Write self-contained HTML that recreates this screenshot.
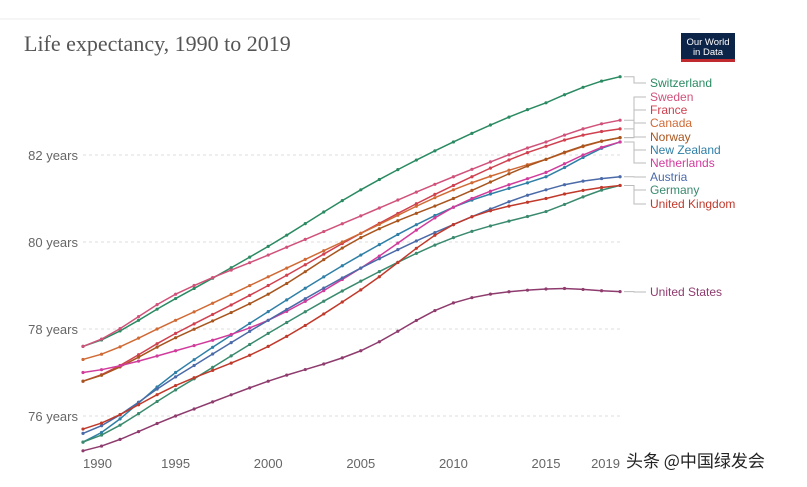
<!DOCTYPE html>
<html><head><meta charset="utf-8"><style>
body{margin:0;background:#fff;width:807px;height:482px;overflow:hidden;font-family:"Liberation Sans",sans-serif}
</style></head><body>
<svg id="s" width="807" height="482" xmlns="http://www.w3.org/2000/svg" font-family="Liberation Sans, sans-serif">
<line x1="0" y1="19" x2="700" y2="19" stroke="#eee"/>
<text x="24" y="51" font-family="Liberation Serif, serif" font-size="22" fill="#555">Life expectancy, 1990 to 2019</text>
<rect x="681" y="33" width="54" height="29" fill="#0d2449"/>
<rect x="681" y="59" width="54" height="3" fill="#c0292e"/>
<text x="708" y="45" font-size="9.5" fill="#fff" text-anchor="middle">Our World</text>
<text x="708" y="55" font-size="9.5" fill="#fff" text-anchor="middle">in Data</text>
<g id="grid"></g><g id="lines"></g><g id="leg"></g>
<text x="626" y="467" font-family="Noto Sans CJK SC, sans-serif" font-size="17" fill="#222">头条 @中国绿发会</text>
</svg>
<script>
const X=y=>83+(y-1990)*18.52, Y=v=>155+(82-v)*43.5, ns="http://www.w3.org/2000/svg";
function el(p,t,a,txt){const e=document.createElementNS(ns,t);for(const k in a)e.setAttribute(k,a[k]);if(txt)e.textContent=txt;document.getElementById(p).appendChild(e);return e;}
[82,80,78,76].forEach(v=>{el("grid","line",{x1:83,x2:620,y1:Y(v),y2:Y(v),stroke:"#ddd","stroke-dasharray":"3,3"});el("grid","text",{x:78,y:Y(v)+5,"text-anchor":"end","font-size":"13",fill:"#666"},v+" years");});
[1990,1995,2000,2005,2010,2015,2019].forEach(y=>el("grid","text",{x:y==1990?83:(y==2019?620:X(y)),y:468,"text-anchor":y==1990?"start":(y==2019?"end":"middle"),"font-size":"13",fill:"#666"},y));
const yrs=[1990,1995,2000,2005,2010,2015,2019];
const D=[
["Switzerland","#2a8a62",[77.6,78.7,79.9,81.2,82.3,83.2,83.8],83],
["Sweden","#d0527a",[77.6,78.8,79.7,80.6,81.5,82.3,82.8],97],
["France","#d0404f",[76.8,77.9,79.0,80.2,81.3,82.2,82.6],110],
["Canada","#d06a35",[77.3,78.2,79.2,80.2,81.2,81.9,82.4],123],
["Norway","#a8551e",[76.8,77.8,78.8,80.1,81.0,81.9,82.4],137],
["New Zealand","#2f7fa6",[75.4,77.0,78.4,79.7,80.8,81.5,82.3],150],
["Netherlands","#d13c9c",[77.0,77.5,78.2,79.4,80.8,81.6,82.3],163],
["Austria","#4a6aa8",[75.6,76.9,78.2,79.4,80.4,81.2,81.5],177],
["Germany","#3a8a6e",[75.4,76.6,77.9,79.1,80.1,80.7,81.3],190],
["United Kingdom","#c0392b",[75.7,76.7,77.6,78.9,80.4,81.0,81.3],204],
["United States","#8e3b6e",[75.2,76.0,76.8,77.5,78.6,78.92,78.86],292]];
function interp(v,y){let i=0;while(i<5&&y>yrs[i+1])i++;const t=(y-yrs[i])/(yrs[i+1]-yrs[i]);
const p0=v[Math.max(i-1,0)],p1=v[i],p2=v[i+1],p3=v[Math.min(i+2,6)];
return 0.5*((2*p1)+(-p0+p2)*t+(2*p0-5*p1+4*p2-p3)*t*t+(-p0+3*p1-3*p2+p3)*t*t*t);}
D.forEach(([n,c,v,ly])=>{let pts=[];for(let y=1990;y<=2019;y++){const val=interp(v,y);pts.push([X(y),Y(val)]);}
el("lines","polyline",{points:pts.map(p=>p.join(",")).join(" "),fill:"none",stroke:c,"stroke-width":1.5});
pts.forEach(p=>el("lines","circle",{cx:p[0],cy:p[1],r:1.6,fill:c}));
const ey=pts[pts.length-1][1];
el("leg","polyline",{points:`624,${ey} 634,${ey} 634,${ly} 646,${ly}`,fill:"none",stroke:"#bbb","stroke-width":1});
el("leg","text",{x:650,y:ly+4,"font-size":"12","font-weight":"normal",fill:c},n);});
</script>
</body></html>
